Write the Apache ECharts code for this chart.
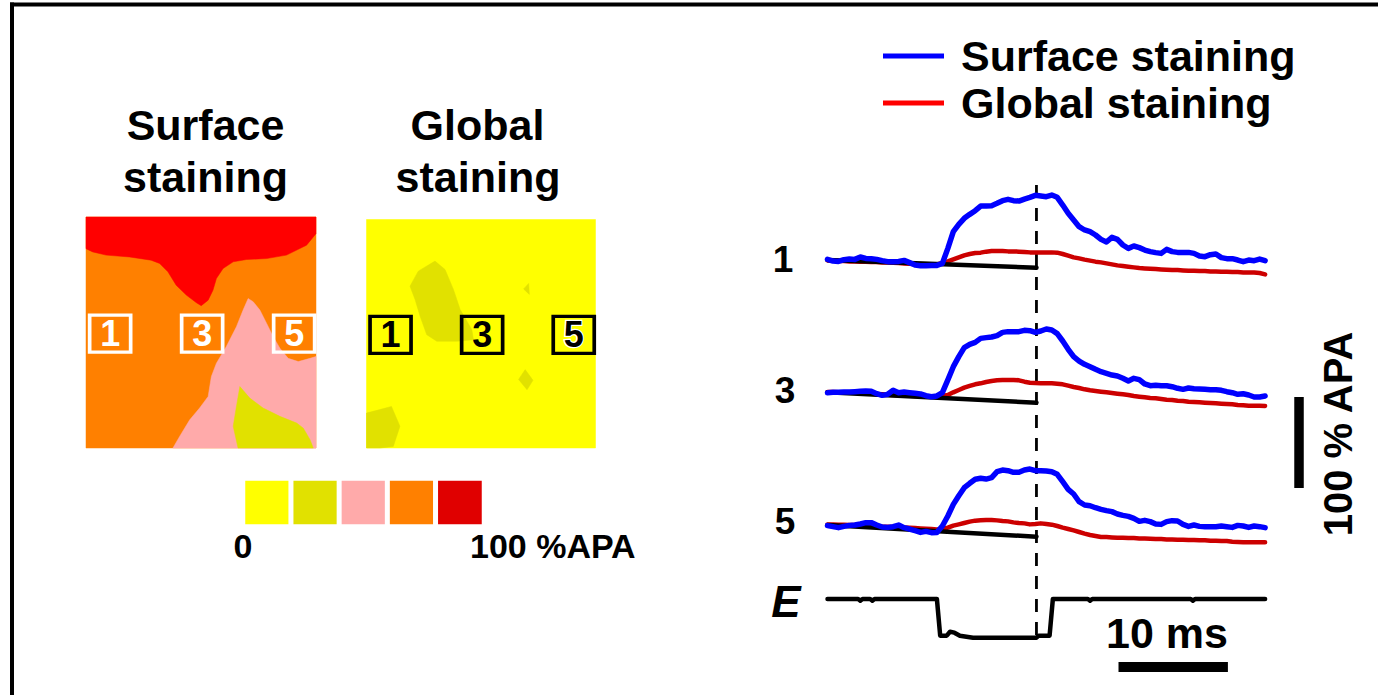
<!DOCTYPE html>
<html><head><meta charset="utf-8">
<script src="https://cdn.jsdelivr.net/npm/echarts/dist/echarts.min.js"></script>
<style>html,body{margin:0;padding:0;background:#fff}#c{width:1378px;height:695px}</style>
</head><body><div id="c"></div><script>
// ---------------- DATA ----------------
// Colour bins of the %APA maps (0 .. 100 %APA, 5 bins)
const colorbarBins = [0, 1, 2, 3, 4];
// Map contours in map units (0..100 across, 0..100 down). Level = colour bin.
const surfaceBaseLevel = 3;
const surfaceRedContour = [[0,0],[0,13.7],[2.9,15.1],[8.7,16.5],[18.9,17.3],[28.3,18.7],[32,20.1],[35.6,23.7],[39.2,29.5],[43.6,33.8],[48,37.1],[50.1,38.4],[53.1,36],[55.2,31.7],[56.7,26.6],[59.6,22.3],[64,19.4],[69.8,18.4],[78.5,18],[87.2,16.5],[95.9,12.2],[100,7.2],[100,0]];
const surfacePinkContour = [[37.8,100],[40.7,95],[45.1,87.8],[49.4,82.7],[53.1,77.7],[54.5,69.1],[56.7,63.3],[61,56.1],[65.4,47.5],[68.3,40.3],[70.5,35.3],[72.7,36.7],[75.6,40.3],[78.5,46],[81.4,51.8],[84.3,56.8],[87.9,61.2],[92.3,62.6],[97.4,61.2],[100,60.4],[100,100]];
const surfaceOliveContour = [[66.9,73.4],[71.2,78.4],[77,82.7],[84.3,86.3],[91.6,89.2],[94.5,91.4],[97.4,96.4],[98.8,100],[66.1,100],[64,90.6],[65.4,82]];
const globalBaseLevel = 0;
const globalOliveContourA = [[19,29.2],[22.6,22.6],[29.9,18.2],[34.3,21.9],[38,30.7],[40.9,39.4],[46,48.2],[46.7,52.6],[39.4,53.3],[30.7,53.3],[26.3,50.4],[23.4,42.3],[21.2,35]];
const globalOliveContourB = [[68.6,30.4],[70.8,28],[71.1,32.8]];
const globalOliveContourC = [[66.4,70],[69.3,65.7],[72.7,70.4],[70.1,74.5]];
const globalOliveContourD = [[0,84.7],[5.8,83.2],[10.9,81.8],[14.6,90.5],[11.7,99.3],[5.8,100],[0,100]];
// Regions of interest
const roiLabels = ['1', '3', '5'];
const roiU = [10.5, 50.5, 90.5];
const roiV = [50.5, 50.5, 50.5];

// Optical traces, %APA, sampled every 0.5 ms from 0 to 40 ms
const SAMPLE_MS = 0.5;
const surfaceTrace1 = [0.7,-1.1,-1.5,0.4,1.1,0.7,3.3,1.8,1.5,0.7,
 -0.7,-1.8,-1.8,-1.5,-0.4,-2.9,-5.5,-6.2,-6.2,-5.9,
 -5.9,-3.7,12.8,31.1,39.2,45.8,50.2,54.2,59.3,59.3,
 59.7,62.3,65.2,66.7,65.2,64.8,67,68.9,71.1,70.3,
 69.6,71.4,68.9,60.4,51.3,44,36.6,33,31.1,27.5,
 22.7,19.8,24.9,22.7,16.5,12.8,15.4,13.6,11,9.2,
 8.1,7.3,11.7,9.2,8.4,8.4,8.4,7.3,4.4,3.7,
 5.9,6.6,2.6,1.5,1.5,0,-1.8,0,-0.7,1.1,
 -0.7];
const globalTrace1 = [-0.4,-0.7,-1.1,-1.1,-1.5,-1.5,-1.8,-1.8,-2.2,-2.2,
 -2.6,-2.6,-2.9,-3.3,-3.7,-4,-4.4,-4.8,-5.1,-5.1,
 -4.8,-3.3,-1.5,0.7,2.9,5.1,6.6,7.7,8.1,9.2,
 9.9,9.9,9.9,9.5,9.5,9.2,8.8,8.4,8.4,8.4,
 8.4,8.4,8.1,6.6,4.8,2.9,1.8,0.4,-0.7,-1.8,
 -2.6,-3.7,-4.8,-5.9,-6.6,-7.3,-8.1,-8.8,-9.2,-9.5,
 -9.9,-10.3,-10.6,-11,-11,-11.4,-11.7,-11.7,-12.1,-12.1,
 -12.5,-12.5,-12.8,-12.8,-13.2,-13.2,-13.6,-13.6,-13.6,-14.3,
 -15.8];
const surfaceTrace3 = [-0.4,0,0,0.4,0.4,0.7,1.1,1.5,1.1,-1.5,
 -3.3,-2.2,2.2,-0.4,0.4,-0.4,-1.1,-1.8,-3.7,-4.8,
 -4,-0.4,13.6,28.2,39.2,49.1,52.7,54.9,59.3,60.1,
 60.8,62.3,65.9,66.7,66.7,66.7,68.1,67.8,65.9,67.4,
 69.6,68.5,64.5,56.4,47.3,39.2,34.4,30.8,28.2,25.3,
 22.7,20.9,19,17.9,15.4,12.5,15.4,13.9,9.2,7.3,
 7.7,7.3,7.3,6.2,4.4,3.3,4.8,4,3.7,3.3,
 2.9,2.9,2.2,0.7,-0.4,-2.2,-1.5,-2.9,-5.1,-5.1,
 -4];
const globalTrace3 = [0.4,0.4,0,0,0,-0.4,-0.7,-1.1,-1.5,-1.8,
 -2.2,-2.6,-2.9,-3.3,-3.3,-3.7,-4,-4,-4.4,-4.8,
 -4.8,-4,-2.9,0,2.6,5.1,7,8.8,9.9,11.4,
 12.5,13.2,13.6,13.6,13.6,13.2,11.7,10.6,10.3,9.9,
 9.9,9.9,9.5,8.8,7.3,5.9,4.8,3.3,2.2,1.5,
 0.7,0,-0.7,-1.5,-2.2,-2.9,-4,-4.8,-5.5,-6.2,
 -6.6,-7.3,-8.1,-8.4,-9.2,-9.5,-10.3,-10.6,-11,-11.4,
 -11.7,-12.1,-12.5,-12.8,-13.2,-13.9,-14.3,-14.7,-14.7,-14.7,
 -15];
const surfaceTrace5 = [-0.7,-1.8,-2.9,-1.5,-0.4,0,1.1,2.6,2.6,0,
 -2.2,-2.6,-1.8,0,-2.9,-4.4,-6.2,-8.1,-7,-8.4,
 -8.1,-1.1,9.9,22.7,32.2,41,45.8,50.2,51.3,50.5,
 52,58.6,60.4,59.7,57.9,57.9,60.4,61.5,59.7,59.7,
 59.3,58.6,55.7,47.6,39.2,34.1,25.6,22,21.2,19,
 17.2,15.8,14.7,12.1,10.6,9.5,7.3,4,5.1,3.7,
 1.1,0.7,3.7,4.8,4.4,0.7,-1.5,0,-1.5,-1.8,
 -1.8,-1.8,-1.1,-1.8,-2.6,-0.4,-1.1,-2.6,-1.1,-1.8,
 -2.9];
const globalTrace5 = [0.7,0.7,0.4,0.4,0,0,-0.4,-0.7,-1.1,-1.5,
 -1.8,-1.8,-2.2,-2.2,-2.6,-2.9,-3.3,-3.7,-4,-4.4,
 -4.8,-4.4,-2.9,-0.7,0.7,2.2,3.7,4.8,5.1,5.5,
 5.5,5.1,4.4,4,2.9,2.2,1.8,0.7,1.1,1.8,
 1.1,0.4,-1.1,-2.9,-4.4,-5.9,-7.7,-9.5,-11,-12.1,
 -13.2,-13.2,-13.6,-13.9,-13.9,-14.3,-14.3,-14.7,-14.7,-15,
 -15.4,-15.4,-15.8,-15.8,-16.1,-16.1,-16.5,-16.5,-16.8,-16.8,
 -17.2,-17.2,-17.6,-17.6,-18.3,-18.7,-19,-19,-19,-19,
 -19];
// Pre-stimulus baseline extrapolation (drift in %APA at the marker time)
const baselineDrift = [-8.4, -11.4, -12.8];
const markerTimeMs = 19.1;
// Stimulus (E) trace: [ms, relative level]
const eTrace = [[0,0],[2.8,0],[3.0,-1.8],[3.2,0],[3.9,0],[4.1,-1.8],[4.3,0],[10.0,0],[10.3,-40.3],[10.9,-40.3],[11.2,-36],[11.6,-37],[12.1,-40.3],[13.3,-42.5],[19.1,-42.5],[19.3,-40.3],[20.3,-40.3],[20.6,0],[23.8,0],[24.0,-1.8],[24.2,0],[33.2,0],[33.4,-1.8],[33.6,0],[40,0]];
// Scale bars
const scaleBarMs = 10;
const scaleBarAPA = 100;
const traceLabels = ['1', '3', '5'];

// ---------------- LAYOUT / STYLE ----------------
const FONT = '"Liberation Sans", Arial, sans-serif';
const mapPalette = ['#ffff00', '#e1e100', '#ffaaaa', '#ff8000', '#ff0000'];
const barPalette = ['#ffff00', '#e1e100', '#ffaaaa', '#ff8000', '#e00000'];
const TRACE_OFFSET = [478, 332.6, 186.8];
const TRACE_LABEL_Y = [259, 390, 521];
const E_OFFSET = 105.5;
const DASH_RANGE = [63.7, 560.4];
const TIME_SCALE_START = 26.6, TIME_SCALE_Y = 30.8;
const APA_SCALE_T = 43.1, APA_SCALE_BOTTOM = 227.5;

const full = [[0,0],[100,0],[100,100],[0,100]];
const surfaceRegions = [
  {level: surfaceBaseLevel, pts: full},
  {level: 4, pts: surfaceRedContour},
  {level: 2, pts: surfacePinkContour},
  {level: 1, pts: surfaceOliveContour}
];
const globalRegions = [
  {level: globalBaseLevel, pts: full},
  {level: 1, pts: globalOliveContourA},
  {level: 1, pts: globalOliveContourB},
  {level: 1, pts: globalOliveContourC},
  {level: 1, pts: globalOliveContourD}
];

function mapSeries(regions, idx) {
  return {
    type: 'custom', xAxisIndex: idx, yAxisIndex: idx, silent: true,
    data: regions.map((r, i) => [i]),
    renderItem: function (params, api) {
      const r = regions[params.dataIndex];
      return {type: 'polygon', shape: {points: r.pts.map(p => api.coord(p))},
        style: {fill: mapPalette[r.level], stroke: mapPalette[r.level], lineWidth: 0.5}};
    }
  };
}
function roiSeries(idx, frameColor, textColor) {
  return {
    type: 'scatter', xAxisIndex: idx, yAxisIndex: idx, silent: true, z: 5,
    symbol: 'rect', symbolSize: [41, 37],
    itemStyle: {color: 'rgba(0,0,0,0)', borderColor: frameColor, borderWidth: 3.5, opacity: 1},
    label: {show: true, position: 'inside', formatter: '{b}', fontSize: 36, fontWeight: 'bold', fontFamily: FONT, color: textColor},
    data: roiLabels.map((l, i) => {
      const d = {name: l, value: [roiU[i], roiV[i]]};
      if (idx === 1 && l === '5') d.label = {textBorderColor: '#fff', textBorderWidth: 2.5};
      return d;
    })
  };
}

const series = [];
series.push(mapSeries(surfaceRegions, 0));
series.push(mapSeries(globalRegions, 1));
series.push(roiSeries(0, '#ffffff', '#ffffff'));
series.push(roiSeries(1, '#000000', '#000000'));
const heatIndex = series.length;
series.push({type: 'heatmap', xAxisIndex: 2, yAxisIndex: 2, silent: true,
  itemStyle: {borderColor: '#fff', borderWidth: 5},
  data: colorbarBins.map((b, i) => [i, 0, b])});

const surfaceTraces = [surfaceTrace1, surfaceTrace3, surfaceTrace5];
const globalTraces = [globalTrace1, globalTrace3, globalTrace5];
const lineBase = {type: 'line', xAxisIndex: 3, yAxisIndex: 3, symbol: 'none', silent: true};
for (let k = 0; k < 3; k++) {
  const off = TRACE_OFFSET[k];
  series.push(Object.assign({}, lineBase, {name: 'Global staining', z: 2,
    lineStyle: {color: '#cc0000', width: 4.5, cap: 'round', join: 'round'}, itemStyle: {color: '#cc0000'},
    data: globalTraces[k].map((v, i) => [i * SAMPLE_MS, v + off])}));
  series.push(Object.assign({}, lineBase, {z: 3,
    lineStyle: {color: '#000', width: 4.5, cap: 'round'},
    data: [[0, off], [markerTimeMs, off + baselineDrift[k]]]}));
  series.push(Object.assign({}, lineBase, {name: 'Surface staining', z: 4,
    lineStyle: {color: '#0000ff', width: 5.5, cap: 'round', join: 'round'}, itemStyle: {color: '#0000ff'},
    data: surfaceTraces[k].map((v, i) => [i * SAMPLE_MS, v + off])}));
}
series.push(Object.assign({}, lineBase, {z: 3,
  lineStyle: {color: '#000', width: 4.5, cap: 'round', join: 'round'},
  data: eTrace.map(p => [p[0], p[1] + E_OFFSET])}));
series.push(Object.assign({}, lineBase, {z: 1,
  lineStyle: {color: '#000', width: 2.8, type: [13, 10]},
  data: [[markerTimeMs, DASH_RANGE[1]], [markerTimeMs, DASH_RANGE[0]]]}));
series.push(Object.assign({}, lineBase, {z: 3,
  lineStyle: {color: '#000', width: 10},
  data: [[TIME_SCALE_START, TIME_SCALE_Y], [TIME_SCALE_START + scaleBarMs, TIME_SCALE_Y]]}));
series.push(Object.assign({}, lineBase, {z: 3,
  lineStyle: {color: '#000', width: 9.5},
  data: [[APA_SCALE_T, APA_SCALE_BOTTOM], [APA_SCALE_T, APA_SCALE_BOTTOM + scaleBarAPA]]}));

function txt(text, x, y, size, opts) {
  opts = opts || {};
  const font = (opts.italic ? 'italic ' : '') + 'bold ' + size + 'px ' + FONT;
  return {type: 'text', x: x, y: y, rotation: opts.rotation || 0, silent: true, z: 10,
    style: {text: text, font: font, fill: '#000',
      textAlign: opts.align || 'center', align: opts.align || 'center',
      textVerticalAlign: 'middle', verticalAlign: 'middle'}};
}

const hidden = {show: false};
const option = {
  animation: false,
  backgroundColor: '#fff',
  grid: [
    {left: 86, top: 217, width: 230, height: 231},
    {left: 366.5, top: 219.5, width: 229, height: 228.5},
    {left: 243, top: 478.5, width: 241, height: 48},
    {left: 827.5, top: 149, width: 547, height: 546}
  ],
  xAxis: [
    Object.assign({type: 'value', min: 0, max: 100, gridIndex: 0}, hidden),
    Object.assign({type: 'value', min: 0, max: 100, gridIndex: 1}, hidden),
    Object.assign({type: 'category', data: colorbarBins, gridIndex: 2}, hidden),
    Object.assign({type: 'value', min: 0, max: 50, gridIndex: 3}, hidden)
  ],
  yAxis: [
    Object.assign({type: 'value', min: 0, max: 100, inverse: true, gridIndex: 0}, hidden),
    Object.assign({type: 'value', min: 0, max: 100, inverse: true, gridIndex: 1}, hidden),
    Object.assign({type: 'category', data: [0], gridIndex: 2}, hidden),
    Object.assign({type: 'value', min: 0, max: 600, gridIndex: 3}, hidden)
  ],
  visualMap: {type: 'piecewise', show: false, seriesIndex: heatIndex, dimension: 2,
    pieces: colorbarBins.map(b => ({value: b, color: barPalette[b]}))},
  legend: {orient: 'vertical', left: 883, top: 32.5, padding: 0, itemGap: 0,
    itemWidth: 61, itemHeight: 5, icon: 'rect', selectedMode: false,
    textStyle: {fontSize: 43, fontWeight: 'bold', fontFamily: FONT, color: '#000', lineHeight: 47, padding: [0, 0, 0, 12]},
    data: [{name: 'Surface staining', itemStyle: {color: '#0000ff'}},
           {name: 'Global staining', itemStyle: {color: '#ff0000'}}]},
  graphic: [
    {type: 'line', silent: true, shape: {x1: 10, y1: 4.5, x2: 1378, y2: 4.5}, style: {stroke: '#000', lineWidth: 4}},
    {type: 'line', silent: true, shape: {x1: 12, y1: 2.5, x2: 12, y2: 695}, style: {stroke: '#000', lineWidth: 4}},
    txt('Surface', 205.5, 125, 43),
    txt('staining', 205.5, 177, 43),
    txt('Global', 477.5, 125, 43),
    txt('staining', 478, 177, 43),
    txt('0', 243, 546, 34),
    txt('100 %APA', 470, 546, 34, {align: 'left'}),
    txt(traceLabels[0], 783, TRACE_LABEL_Y[0], 37),
    txt(traceLabels[1], 785, TRACE_LABEL_Y[1], 37),
    txt(traceLabels[2], 785, TRACE_LABEL_Y[2], 37),
    txt('E', 786, 601, 44, {italic: true}),
    txt('10 ms', 1167, 633, 43),
    txt('100 % APA', 1338, 434, 40, {rotation: Math.PI / 2})
  ],
  series: series
};
const chart = echarts.init(document.getElementById('c'), null, {renderer: 'svg', width: 1378, height: 695});
chart.setOption(option);
</script></body></html>
